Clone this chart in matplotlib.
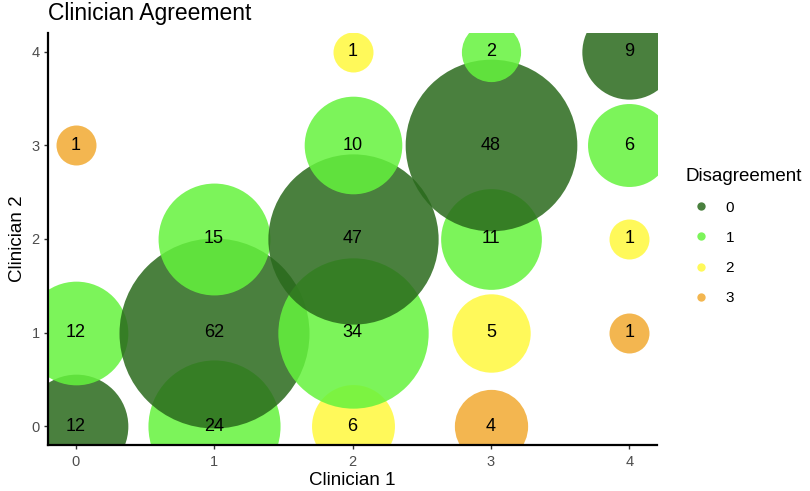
import numpy as np
import matplotlib
matplotlib.use("Agg")
import matplotlib.pyplot as plt
from matplotlib.lines import Line2D

plt.rcParams['font.family'] = ['Liberation Sans', 'DejaVu Sans']

# Data (drawing order as in the reference: row by row)
clinician1 = [0, 1, 2, 3, 0, 1, 2, 3, 4, 1, 2, 3, 4, 0, 2, 3, 4, 2, 3, 4]
clinician2 = [0, 0, 0, 0, 1, 1, 1, 1, 1, 2, 2, 2, 2, 3, 3, 3, 3, 4, 4, 4]
counts     = [12, 24, 6, 4, 12, 62, 34, 5, 1, 15, 47, 11, 1, 1, 10, 48, 6, 1, 2, 9]
disagree   = [0, 1, 2, 3, 1, 0, 1, 2, 3, 1, 0, 1, 2, 3, 1, 0, 1, 2, 1, 0]
levels = ['0', '1', '2', '3']
tick_vals = [0, 1, 2, 3, 4]

palette = {0: '#2A6A1C', 1: '#65F33D', 2: '#FFF93D', 3: '#F1AA31'}
ALPHA = 0.85

W, H, DPI = 810, 491, 100
fig = plt.figure(figsize=(W / DPI, H / DPI), dpi=DPI)
ax = fig.add_axes([48 / W, 1 - 445 / H, (657 - 48) / W, (445 - 33) / H])

# size scale: radius in px from rmin to rmax, area-like (sqrt) mapping
rmin, rmax = 20, 95
cmin, cmax = min(counts), max(counts)
def radius_px(n):
    return rmin + (rmax - rmin) * np.sqrt((n - cmin) / (cmax - cmin))

for x, y, n, d in zip(clinician1, clinician2, counts, disagree):
    r_pt = radius_px(n) * 72 / DPI
    ax.scatter([x], [y], s=(2 * r_pt) ** 2, color=palette[d], alpha=ALPHA,
               linewidths=0, zorder=2)
    ax.text(x, y, str(n), ha='center', va='center', fontsize=13, color='black', zorder=5)

ax.set_xlim(-0.2, 4.2)
ax.set_ylim(-0.2, 4.2)
ax.set_xticks(tick_vals)
ax.set_yticks(tick_vals)
ax.set_xticklabels([str(v) for v in tick_vals])
ax.set_yticklabels([str(v) for v in tick_vals])

for side in ['top', 'right']:
    ax.spines[side].set_visible(False)
for side in ['left', 'bottom']:
    ax.spines[side].set_linewidth(1.6)
    ax.spines[side].set_color('black')
ax.tick_params(axis='both', direction='out', length=3, width=1.0, color='#333333',
               labelsize=10.5, labelcolor='#4D4D4D', pad=3)
ax.tick_params(axis='x', pad=4)

ax.set_xlabel('Clinician 1', fontsize=13.5, labelpad=2.5)
ax.set_ylabel('Clinician 2', fontsize=13.5, labelpad=4)

fig.text(48 / W, 1 - 20 / H, 'Clinician Agreement', fontsize=16.5, ha='left', va='baseline')

handles = [Line2D([0], [0], marker='o', linestyle='none', markersize=6,
                  markerfacecolor=palette[i], markeredgewidth=0, alpha=ALPHA)
           for i in range(len(levels))]
leg = fig.legend(handles, levels, loc='upper left', bbox_to_anchor=(672 / W, 1 - 154 / H),
                 frameon=False, title='Disagreement', fontsize=11, title_fontsize=13.5,
                 labelspacing=1.05, handletextpad=0.6, alignment='left')

fig.savefig('out.png', dpi=DPI)
